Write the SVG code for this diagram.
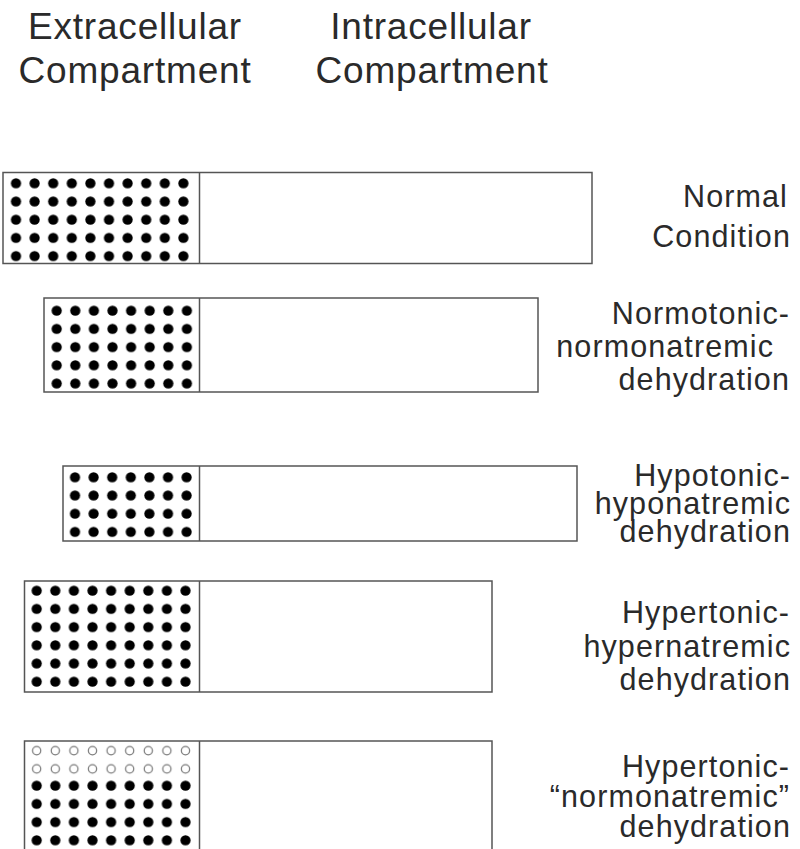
<svg xmlns="http://www.w3.org/2000/svg" width="800" height="849" viewBox="0 0 800 849">
<style>
.box{fill:#fff;stroke:#555;stroke-width:1.5}
.div{stroke:#555;stroke-width:1.5}
.hdr{font-family:"Liberation Sans",Arial,sans-serif;font-size:37px;fill:#2a2a2a;text-anchor:middle;letter-spacing:0.8px}
.lbl{font-family:"Liberation Sans",Arial,sans-serif;font-size:30.5px;fill:#2a2a2a;text-anchor:end;letter-spacing:1.1px}
</style>
<defs>
<pattern id="dots" patternUnits="userSpaceOnUse" width="18.6" height="18.2">
<circle cx="9.3" cy="9.1" r="5.1" fill="#000"/>
</pattern>
<pattern id="rings" patternUnits="userSpaceOnUse" width="18.6" height="18.2">
<circle cx="9.3" cy="9.1" r="4.1" fill="none" stroke="#777" stroke-width="1.2"/>
</pattern>
</defs>
<rect width="800" height="849" fill="#fff"/>
<g id="headers">
<text class="hdr" x="135" y="39">Extracellular</text>
<text class="hdr" x="135" y="83">Compartment</text>
<text class="hdr" x="431" y="39">Intracellular</text>
<text class="hdr" x="432" y="83">Compartment</text>
</g>
<g id="normal">
<rect class="box" x="3" y="172.5" width="589" height="91"/>
<line class="div" x1="199.5" y1="172.5" x2="199.5" y2="263.5"/>
<g transform="translate(6.7,174.2)"><rect width="186" height="91" fill="url(#dots)"/></g>
<text class="lbl" x="788" y="207">Normal</text>
<text class="lbl" x="791" y="247">Condition</text>
</g>
<g id="normotonic">
<rect class="box" x="44" y="298" width="494" height="94"/>
<line class="div" x1="199.5" y1="298" x2="199.5" y2="392"/>
<g transform="translate(47.4,301.6)"><rect width="148.8" height="91" fill="url(#dots)"/></g>
<text class="lbl" x="790" y="324">Normotonic-</text>
<text class="lbl" x="774" y="357">normonatremic</text>
<text class="lbl" x="790" y="390">dehydration</text>
</g>
<g id="hypotonic">
<rect class="box" x="63" y="466" width="514" height="75"/>
<line class="div" x1="199.5" y1="466" x2="199.5" y2="541"/>
<g transform="translate(65.7,468.2)"><rect width="130.2" height="72.8" fill="url(#dots)"/></g>
<text class="lbl" x="791" y="486">Hypotonic-</text>
<text class="lbl" x="791" y="514">hyponatremic</text>
<text class="lbl" x="791" y="542">dehydration</text>
</g>
<g id="hypertonic">
<rect class="box" x="24.5" y="581" width="467.5" height="111"/>
<line class="div" x1="199.5" y1="581" x2="199.5" y2="692"/>
<g transform="translate(27.4,581.6)"><rect width="167.4" height="109.2" fill="url(#dots)"/></g>
<text class="lbl" x="790" y="623">Hypertonic-</text>
<text class="lbl" x="791" y="657">hypernatremic</text>
<text class="lbl" x="791" y="690">dehydration</text>
</g>
<g id="hypertonic-normonatremic">
<rect class="box" x="24.5" y="741" width="467.5" height="130"/>
<line class="div" x1="199.5" y1="741" x2="199.5" y2="871"/>
<g transform="translate(27.4,741.6)"><rect width="167.4" height="36.4" fill="url(#rings)"/></g>
<g transform="translate(27.4,776.6)"><rect width="167.4" height="72.8" fill="url(#dots)"/></g>
<text class="lbl" x="790" y="777">Hypertonic-</text>
<text class="lbl" x="790" y="807">“normonatremic”</text>
<text class="lbl" x="791" y="837">dehydration</text>
</g>
</svg>
